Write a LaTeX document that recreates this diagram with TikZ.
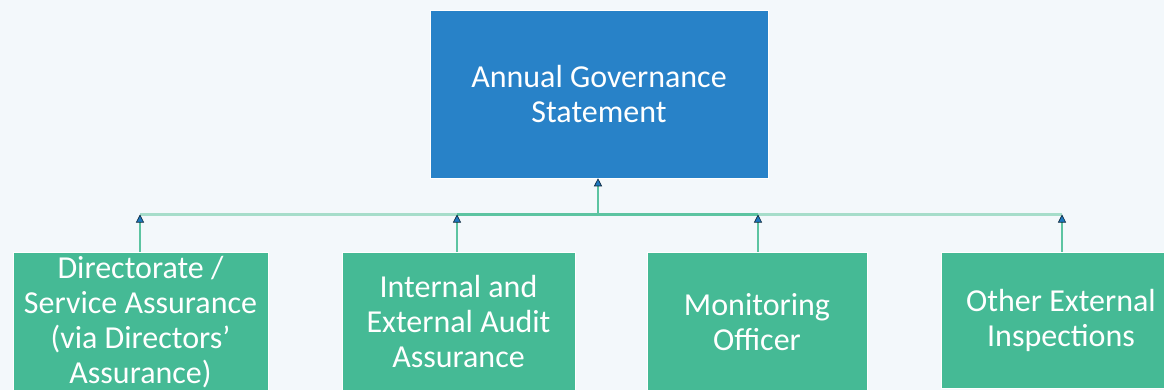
\documentclass[tikz,border=0pt]{standalone}
\usepackage{fontspec}
\setmainfont{Carlito}
\usetikzlibrary{arrows.meta}
\definecolor{bgc}{HTML}{F3F8FB}
\definecolor{topblue}{HTML}{2882C8}
\definecolor{childgreen}{HTML}{45BA95}
\definecolor{linegreen}{HTML}{5CC4A1}
\definecolor{lightline}{HTML}{A6DDCA}
\definecolor{tipblue}{HTML}{1E78BE}
\tikzset{
  topbox/.style={fill=topblue, draw=white, line width=0.6pt, text=white, align=center,
    font=\fontsize{32}{35}\selectfont, inner sep=0pt},
  childbox/.style={fill=childgreen, draw=white, line width=0.6pt, text=white, align=center,
    font=\fontsize{32}{35}\selectfont, inner sep=0pt},
  conn/.style={draw=linegreen, line width=1.6pt,
    -{Triangle[width=8pt,length=8pt,fill=tipblue,color=black!70!tipblue,line width=0.6pt]}},
  barline/.style={draw=lightline, line width=2.6pt},
}
\begin{document}
\begin{tikzpicture}[x=1pt,y=-1pt]
\fill[bgc] (0,0) rectangle (1164,390);
\useasboundingbox (0,0) rectangle (1164,390);
\node[topbox, minimum width=338pt, minimum height=168pt] (top) at (599,94) {Annual Governance\\Statement};
\node[childbox, minimum width=255pt, minimum height=140pt] (c1) at (140.5,322) {Directorate /\\Service Assurance\\(via Directors’\\Assurance)};
\node[childbox, minimum width=233pt, minimum height=140pt] (c2) at (458.5,322) {Internal and\\External Audit\\Assurance};
\node[childbox, minimum width=220pt, minimum height=140pt] (c3) at (757,322) {Monitoring\\Officer};
\node[childbox, minimum width=240pt, minimum height=136pt] (c4) at (1061,320) {Other External\\Inspections};
\coordinate (bar) at (598,214.5);
\coordinate (b1) at (140,214.5);
\coordinate (b2) at (457,214.5);
\coordinate (b3) at (758,214.5);
\coordinate (b4) at (1062,214.5);
\draw[barline] (b1) -- (b4);
\draw[draw=linegreen, line width=2pt] (b2) -- (b3);
\draw[conn] (c1.north -| b1) -- (b1);
\draw[conn] (c2.north -| b2) -- (b2);
\draw[conn] (c3.north -| b3) -- (b3);
\draw[conn] (c4.north -| b4) -- (b4);
\draw[conn] (bar) -- (top.south -| bar);
\end{tikzpicture}
\end{document}
